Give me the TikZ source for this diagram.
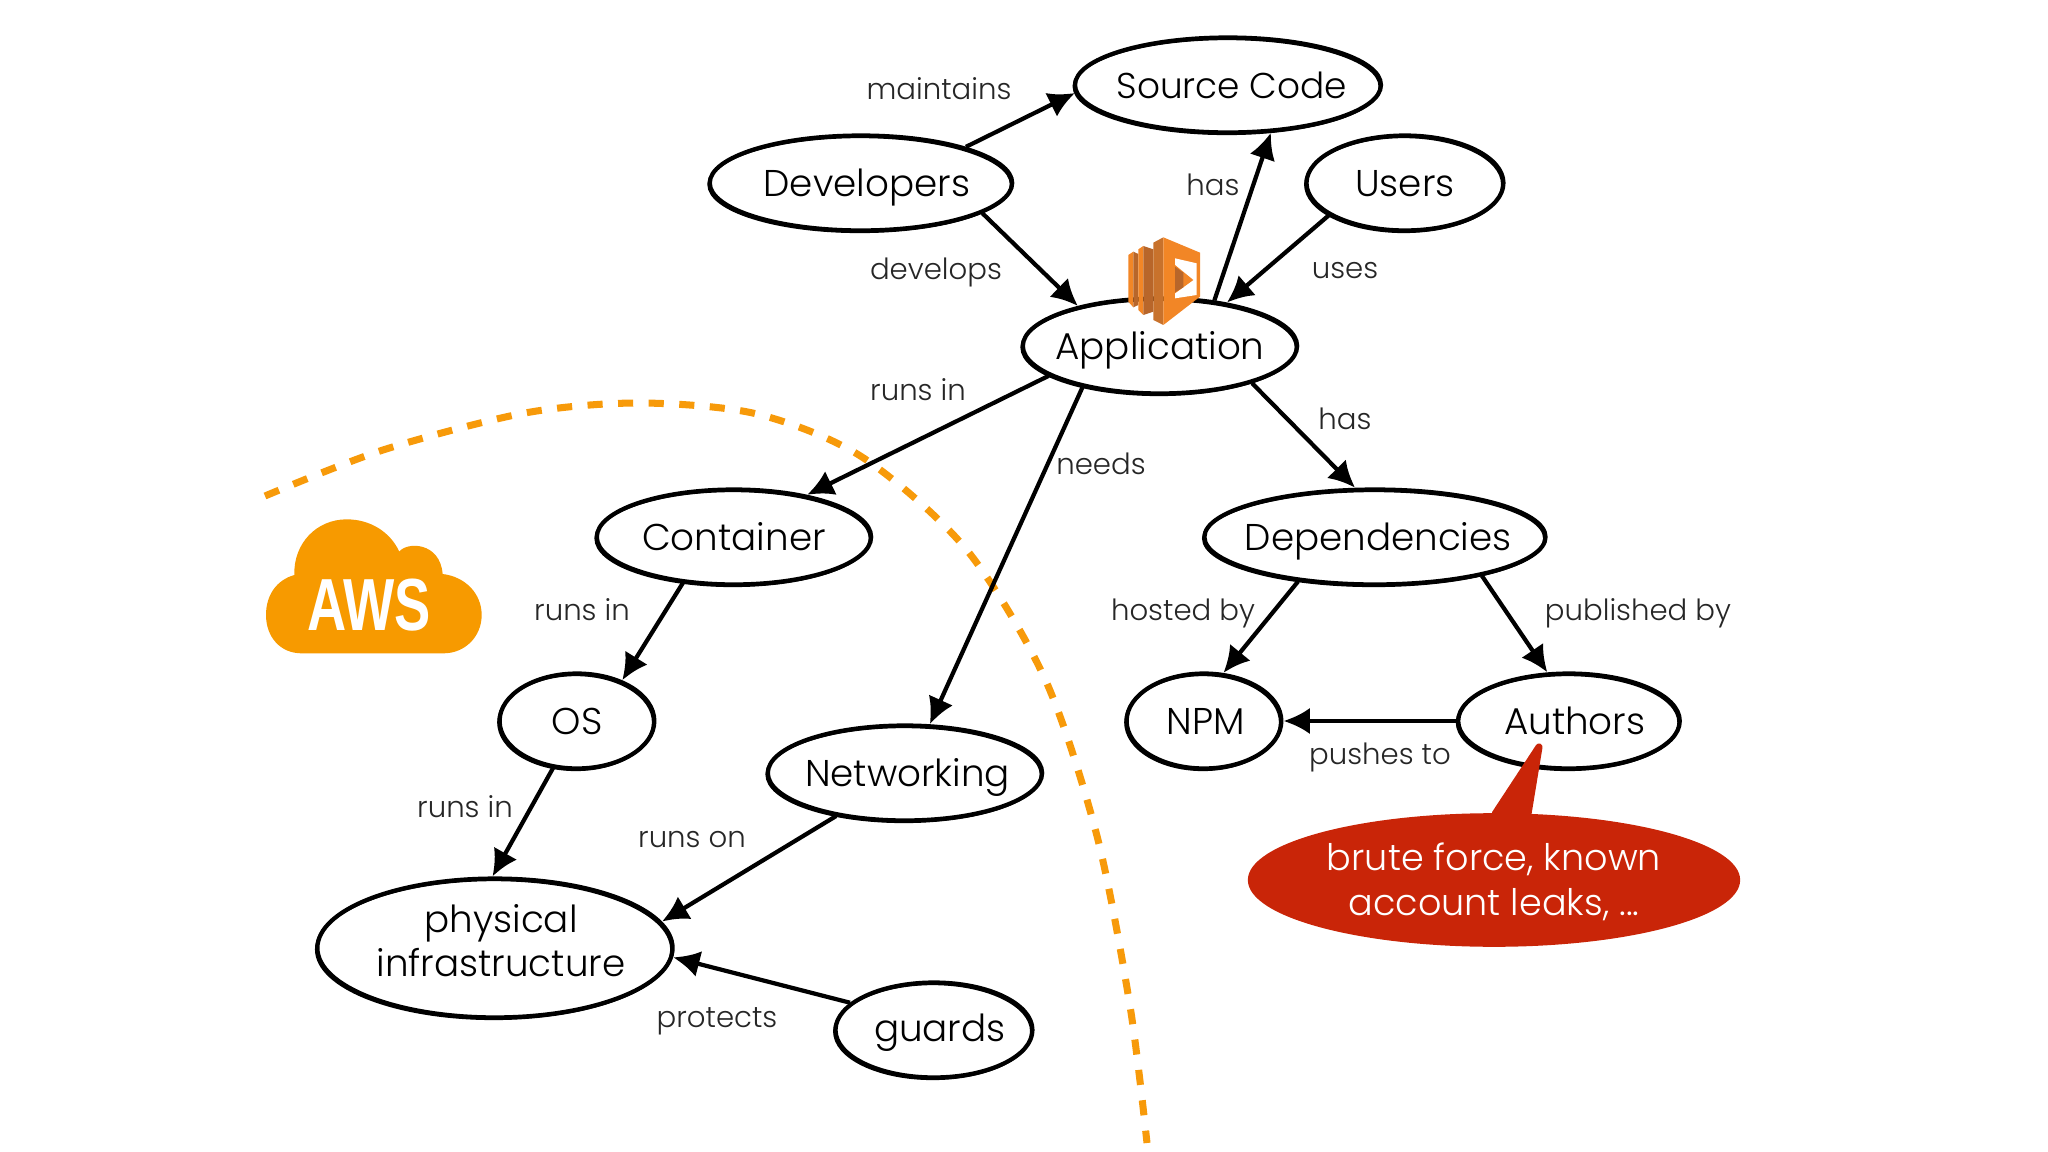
\documentclass[tikz,border=0pt]{standalone}
\usepackage{fontspec}
\setmainfont{Poppins}
\newfontfamily\lightfont{Poppins Light}
\newfontfamily\cloudfont{Liberation Sans}
\usepackage{tikz}
\usetikzlibrary{arrows.meta,shapes.geometric}

\begin{document}
\begin{tikzpicture}[x=0.01cm,y=-0.01cm]
  \definecolor{awsorange}{HTML}{F79A00}
  \definecolor{boundary} {HTML}{F79A0A}
  \definecolor{lambda}   {HTML}{F28626}
  \definecolor{lambdadk} {HTML}{B8662A}
  \definecolor{lambdamd} {HTML}{C8722C}
  \definecolor{leakred}  {HTML}{C92508}
  \tikzstyle{lump}=[ellipse,draw=black,line width=1.2pt,fill=white,inner sep=-22pt,
    font=\fontsize{10.6}{12.5}\lightfont,
    postaction={draw=black,line width=.7pt,transform canvas={xshift=-.35pt,yshift=-.4pt}}]
  \tikzstyle{thing}=[lump,text height=10pt,text depth=2.1pt]
  \tikzstyle{rel}=[inner sep=0pt,text height=7.5pt,text depth=1.3pt,font=\fontsize{8.3}{10}\lightfont,text=black!85]
  \tikzstyle{link}=[line width=1.2pt,-{Latex[length=7.5pt,width=7.5pt]}]
  \useasboundingbox (0,0) rectangle (2048,1152);

  % the boundary of the cloud
  \draw [boundary,line width=2pt,dash pattern=on 4.3pt off 4.4pt]
    plot [smooth] coordinates {(265,496) (383,450) (525,413) (640,403) (757,414) (862,457)
      (966,549) (1045,679) (1097,836) (1130,1006) (1147,1143)};

  % nodes
  \node (source) at (1228,85)  [thing,minimum width=87pt,minimum height=27pt,font=\fontsize{10.2}{12.5}\lightfont] {\hspace*{2.2pt}Source Code};
  \node (devs)   at (861,183)  [thing,minimum width=86pt,minimum height=27pt] {\hspace*{3.3pt}Developers};
  \node (users)  at (1405,183) [thing,minimum width=56pt,minimum height=27pt] {Users};
  \node (app)    at (1160,346) [thing,minimum width=78pt,minimum height=27pt] {Application};
  \node (cont)   at (734,537)  [thing,minimum width=78pt,minimum height=27pt] {Container};
  \node (deps)   at (1375,537) [thing,minimum width=97pt,minimum height=27pt] {\hspace*{1.8pt}Dependencies};
  \node (os)     at (577,721)  [thing,minimum width=44pt,minimum height=27pt] {OS};
  \node (net)    at (905,773)  [thing,minimum width=78pt,minimum height=27pt] {\hspace*{1.5pt}Networking};
  \node (npm)    at (1204,721) [thing,minimum width=44pt,minimum height=27pt] {\hspace*{1pt}NPM};
  \node (authors) at (1569,721) [thing,minimum width=63pt,minimum height=27pt] {\hspace*{3.3pt}Authors};
  \node (phys)   at (495,948)  [lump,align=center,minimum width=101pt,minimum height=39.5pt]
    {\hspace*{3.4pt}physical\\\hspace*{3.4pt}infrastructure\rule[-4.5pt]{0pt}{4.5pt}};
  \node (guards) at (934,1030) [thing,text height=9.3pt,text depth=2.7pt,minimum width=56pt,minimum height=27pt] {\hspace*{3.3pt}guards};

  % connectors
  \draw [link] (devs.19)    -- (source.183);
  \draw [link] (devs.-14)   -- (app.154);
  \draw [link] (app.40)     -- (source.-48);
  \draw [link] (users.203)  -- (app.33);
  \draw [link] (app.195)    -- (cont.30);
  \draw [link] (app.208)    -- (net.63);
  \draw [link] (app.-22)    -- (deps.112);
  \draw [link] (cont.222)   -- (os.42);
  \draw [link] (os.243)     -- (phys.92);
  \draw [link] (net.212)    -- (phys.9);
  \draw [link] (guards.162) -- (phys.-3);
  \draw [link] (deps.210)   -- (npm.68);
  \draw [link] (deps.-20)   -- (authors.114);
  \draw [link] (authors.180) -- (npm.0);

  % connector labels
  \node (l1)  at (939,89)   [rel] {maintains};
  \node (l2)  at (936,269)  [rel] {develops};
  \node (l3)  at (1213,185) [rel] {has};
  \node (l4)  at (1345,268) [rel] {uses};
  \node (l5)  at (918,390)  [rel] {runs in};
  \node (l6)  at (1101,464) [rel] {needs};
  \node (l7)  at (1345,419) [rel] {has};
  \node (l8)  at (582,610)  [rel] {runs in};
  \node (l9)  at (1183,610) [rel] {hosted by};
  \node (l10) at (1638,610) [rel] {published by};
  \node (l11) at (1380,754) [rel] {pushes to};
  \node (l12) at (465,807)  [rel] {runs in};
  \node (l13) at (692,837)  [rel] {runs on};
  \node (l14) at (717,1017) [rel] {protects};

  % the red callout
  \fill [leakred,line join=round,line width=2pt,draw=leakred] (1495,814) -- (1539,747) -- (1528,814) -- cycle;
  \node (leaks) at (1494,880) [ellipse,fill=leakred,text=white,inner sep=-22pt,minimum width=140pt,
    minimum height=38pt,align=center,font=\fontsize{10.4}{12.8}\lightfont] {\rule{0pt}{9pt}brute force, known\\account leaks, ...};

  % the orange icon on the application
  \begin{scope}[shift={(1115,230)},x=0.01cm/3,y=-0.01cm/3]
    \fill [lambda]   (40,75) -- (55,65) -- (55,232) -- (40,215) -- cycle;
    \fill [lambdadk] (55,65) -- (70,72) -- (70,225) -- (55,232) -- cycle;
    \fill [lambda]   (70,58) -- (85,48) -- (85,255) -- (70,240) -- cycle;
    \fill [lambdadk] (85,48) -- (115,58) -- (115,245) -- (85,255) -- cycle;
    \fill [lambdamd] (115,38) -- (145,22) -- (145,285) -- (115,270) -- cycle;
    \fill [lambda]   (145,22) -- (255,68) -- (255,200) -- (145,285) -- cycle;
    \fill [white]    (180,85) -- (245,100) -- (245,195) -- (180,205) -- cycle;
    \fill [lambda]   (180,105) -- (235,150) -- (180,190) -- cycle;
    \fill [lambdadk] (180,110) -- (205,128) -- (205,172) -- (180,187) -- cycle;
  \end{scope}

  % the AWS cloud
  \begin{scope}[shift={(240,500)},x=0.01cm/3,y=-0.01cm/3]
    \fill [awsorange] (185,460) .. controls (120,460) and (78,410) .. (78,345)
      .. controls (78,285) and (110,240) .. (163,225)
      .. controls (160,130) and (230,58) .. (320,58)
      .. controls (390,58) and (450,95) .. (478,155)
      .. controls (500,125) and (600,125) .. (608,222)
      .. controls (675,230) and (725,280) .. (725,345)
      .. controls (725,410) and (675,460) .. (610,460) -- cycle;
  \end{scope}
  \node (aws) at (369,605) [inner sep=0pt,text=white,transform shape,xscale=.735,
    font=\fontsize{21}{24}\bfseries\cloudfont] {AWS};
\end{tikzpicture}
\end{document}
